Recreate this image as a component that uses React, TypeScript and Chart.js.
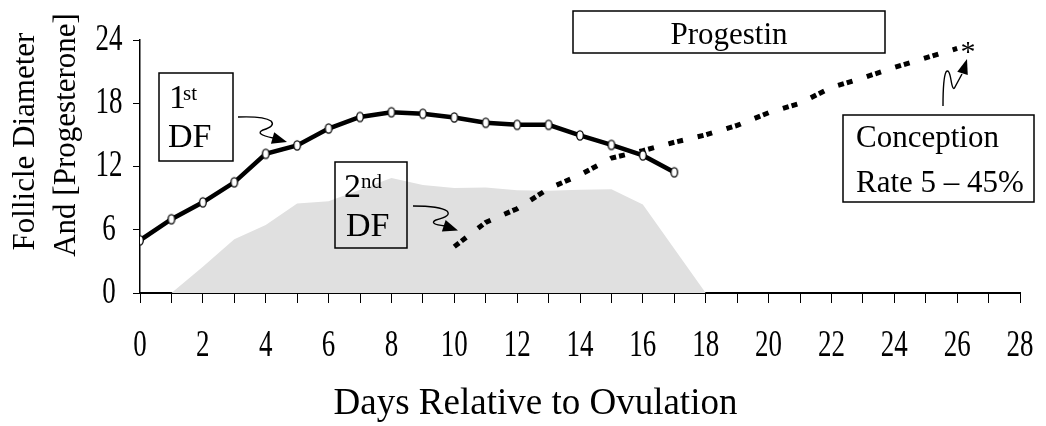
import React, { useEffect, useRef } from 'react';
import { Chart, registerables } from 'chart.js';

Chart.register(...registerables);

// ---- Data ----
const firstDfDays = [0, 1, 2, 3, 4, 5, 6, 7, 8, 9, 10, 11, 12, 13, 14, 15, 16, 17];
const firstDfValues = [5.0, 7.0, 8.6, 10.5, 13.2, 14.0, 15.6, 16.7, 17.15, 17.0, 16.65, 16.15, 15.95, 15.95, 14.95, 14.05, 13.05, 11.45];

const secondDfDays = [1, 2, 3, 4, 5, 6, 7, 8, 9, 10, 11, 12, 13, 14, 15, 16, 17, 18];
const secondDfValues = [0, 2.5, 5.1, 6.45, 8.5, 8.7, 9.8, 10.9, 10.25, 9.95, 10.0, 9.75, 9.7, 9.8, 9.85, 8.4, 4.2, 0];

const progesteroneDays = [10, 11, 12, 13, 14, 15, 16, 17, 18, 19, 20, 21, 22, 23, 24, 25, 26];
const progesteroneValues = [4.4, 6.7, 8.0, 9.9, 11.2, 12.8, 13.5, 14.3, 15.0, 15.9, 17.1, 18.0, 19.5, 20.4, 21.4, 22.3, 23.2];

const xTickLabels = ['0', '2', '4', '6', '8', '10', '12', '14', '16', '18', '20', '22', '24', '26', '28'];
const yTickLabels = ['0', '6', '12', '18', '24'];

const xTitle = 'Days Relative to Ovulation';
const yTitleLines = ['Follicle Diameter', 'And [Progesterone]'];
const progestinLabel = 'Progestin';
const conceptionLines = ['Conception', 'Rate 5 \u2013 45%'];
const firstDfLabel = { num: '1', sup: 'st', line2: 'DF' };
const secondDfLabel = { num: '2', sup: 'nd', line2: 'DF' };
const markerSymbol = '*';

const SERIF = "'Liberation Serif', 'Times New Roman', serif";

function makeMarker(): HTMLCanvasElement {
  const c = document.createElement('canvas');
  c.width = 10;
  c.height = 13;
  const g = c.getContext('2d')!;
  g.beginPath();
  g.ellipse(5, 6.5, 3.3, 4.7, 0, 0, Math.PI * 2);
  g.fillStyle = '#ffffff';
  g.fill();
  g.lineWidth = 1.3;
  g.strokeStyle = '#000000';
  g.stroke();
  return c;
}

function arrowHead(ctx: CanvasRenderingContext2D, fx: number, fy: number, tx: number, ty: number, len: number, half: number) {
  const a = Math.atan2(ty - fy, tx - fx);
  const bx = tx - Math.cos(a) * len;
  const by = ty - Math.sin(a) * len;
  ctx.beginPath();
  ctx.moveTo(tx, ty);
  ctx.lineTo(bx + Math.sin(a) * half, by - Math.cos(a) * half);
  ctx.lineTo(bx - Math.sin(a) * half, by + Math.cos(a) * half);
  ctx.closePath();
  ctx.fill();
}

const annotationPlugin = {
  id: 'customText',
  afterDraw(chart: any) {
    const ctx: CanvasRenderingContext2D = chart.ctx;
    const xs = chart.scales.x;
    const ys = chart.scales.y;
    ctx.save();
    ctx.fillStyle = '#000';
    ctx.strokeStyle = '#000';

    // condensed tick labels
    ctx.font = `38px ${SERIF}`;
    ctx.textAlign = 'center';
    ctx.textBaseline = 'middle';
    xTickLabels.forEach((lab) => {
      const px = xs.getPixelForValue(Number(lab));
      ctx.save();
      ctx.translate(px, 346);
      ctx.scale(0.71, 1);
      ctx.fillText(lab, 0, 0);
      ctx.restore();
    });
    yTickLabels.forEach((lab) => {
      const py = ys.getPixelForValue(Number(lab));
      ctx.save();
      ctx.translate(109, py);
      ctx.scale(0.71, 1);
      ctx.fillText(lab, 0, 0);
      ctx.restore();
    });

    // axis titles
    ctx.textBaseline = 'alphabetic';
    ctx.font = `37px ${SERIF}`;
    ctx.fillText(xTitle, 535.5, 414);

    ctx.font = `31px ${SERIF}`;
    const yCenters = [141.5, 135];
    const yBase = [34, 75];
    yTitleLines.forEach((t, i) => {
      ctx.save();
      ctx.translate(yBase[i], yCenters[i]);
      ctx.rotate(-Math.PI / 2);
      ctx.fillText(t, 0, 0);
      ctx.restore();
    });

    // boxes
    ctx.lineWidth = 1.5;
    ctx.strokeRect(573, 11, 312, 42);
    ctx.strokeRect(843, 115, 191, 87);
    ctx.strokeRect(159, 73, 74, 88);
    ctx.strokeRect(335, 162, 72, 86);

    ctx.font = `31px ${SERIF}`;
    ctx.textAlign = 'center';
    ctx.fillText(progestinLabel, 729, 43.5);
    ctx.textAlign = 'left';
    ctx.fillText(conceptionLines[0], 856, 147);
    ctx.fillText(conceptionLines[1], 856, 192);

    // 1st DF
    ctx.font = `34px ${SERIF}`;
    ctx.fillText(firstDfLabel.num, 169, 108);
    ctx.fillText(firstDfLabel.line2, 168, 147);
    ctx.font = `21px ${SERIF}`;
    ctx.fillText(firstDfLabel.sup, 183, 100);
    // 2nd DF
    ctx.font = `34px ${SERIF}`;
    ctx.fillText(secondDfLabel.num, 344, 197);
    ctx.fillText(secondDfLabel.line2, 346, 236);
    ctx.font = `21px ${SERIF}`;
    ctx.fillText(secondDfLabel.sup, 361, 188);

    // asterisk
    ctx.font = `30px ${SERIF}`;
    ctx.textAlign = 'center';
    ctx.fillText(markerSymbol, 968, 61);

    // arrows
    ctx.lineWidth = 1.4;
    ctx.beginPath();
    ctx.moveTo(238, 117);
    ctx.quadraticCurveTo(264, 116, 271, 121);
    ctx.quadraticCurveTo(276, 126, 263, 130);
    ctx.quadraticCurveTo(254, 134, 273, 138);
    ctx.stroke();
    arrowHead(ctx, 271, 137.5, 287, 142, 15, 6);

    ctx.beginPath();
    ctx.moveTo(413, 206);
    ctx.quadraticCurveTo(440, 206, 447, 211);
    ctx.quadraticCurveTo(452, 216, 436, 220);
    ctx.quadraticCurveTo(428, 224, 445, 226);
    ctx.stroke();
    arrowHead(ctx, 443, 225.5, 458, 230.5, 15, 6);

    ctx.beginPath();
    ctx.moveTo(943, 106);
    ctx.quadraticCurveTo(943, 78, 946, 72);
    ctx.quadraticCurveTo(949, 68, 951, 80);
    ctx.quadraticCurveTo(953, 92, 955, 87);
    ctx.lineTo(962, 74);
    ctx.stroke();
    arrowHead(ctx, 962, 75, 967, 59, 15, 5.5);

    ctx.restore();
  },
};

export default function App() {
  const ref = useRef<HTMLCanvasElement | null>(null);

  useEffect(() => {
    if (!ref.current) return;
    const marker = makeMarker();
    const chart = new Chart(ref.current, {
      type: 'line',
      data: {
        datasets: [
          {
            label: '1st DF',
            data: firstDfDays.map((d, i) => ({ x: d, y: firstDfValues[i] })),
            borderColor: '#000',
            borderWidth: 4.5,
            tension: 0,
            pointStyle: marker as any,
            pointRadius: 4,
            fill: false,
            order: 0,
          },
          {
            label: 'Progesterone',
            data: progesteroneDays.map((d, i) => ({ x: d, y: progesteroneValues[i] })),
            borderColor: '#000',
            borderWidth: 5,
            borderDash: [6, 3, 6, 15],
            borderCapStyle: 'butt',
            tension: 0,
            pointRadius: 0,
            fill: false,
            order: 1,
          },
          {
            label: '2nd DF',
            data: secondDfDays.map((d, i) => ({ x: d, y: secondDfValues[i] })),
            borderWidth: 0,
            borderColor: 'rgba(0,0,0,0)',
            backgroundColor: '#e0e0e0',
            tension: 0,
            pointRadius: 0,
            fill: 'origin',
            order: 5,
          },
        ],
      },
      options: {
        responsive: false,
        animation: false,
        events: [],
        layout: { padding: { top: 40, right: 26, left: 0, bottom: 0 } },
        plugins: {
          legend: { display: false },
          tooltip: { enabled: false },
          title: { display: false },
        },
        scales: {
          x: {
            type: 'linear',
            min: 0,
            max: 28,
            z: 1,
            afterFit: (s: any) => {
              s.height = 133;
            },
            ticks: { stepSize: 1, display: false, autoSkip: false },
            grid: {
              display: true,
              drawOnChartArea: false,
              drawTicks: true,
              tickLength: 10,
              color: '#000',
              lineWidth: 1,
            },
            border: { display: true, color: '#000', width: 2 },
          },
          y: {
            type: 'linear',
            min: 0,
            max: 24,
            afterFit: (s: any) => {
              s.width = 140;
            },
            ticks: { stepSize: 6, display: false },
            grid: {
              display: true,
              drawOnChartArea: false,
              drawTicks: true,
              tickLength: 7,
              color: '#000',
              lineWidth: 1,
            },
            border: { display: true, color: '#000', width: 1.5 },
          },
        },
      },
      plugins: [annotationPlugin],
    });
    return () => chart.destroy();
  }, []);

  return (
    <div style={{ position: 'absolute', left: 0, top: 0, width: 1046, height: 426, background: '#fff' }}>
      <canvas ref={ref} width={1046} height={426} style={{ width: 1046, height: 426 }} />
    </div>
  );
}
